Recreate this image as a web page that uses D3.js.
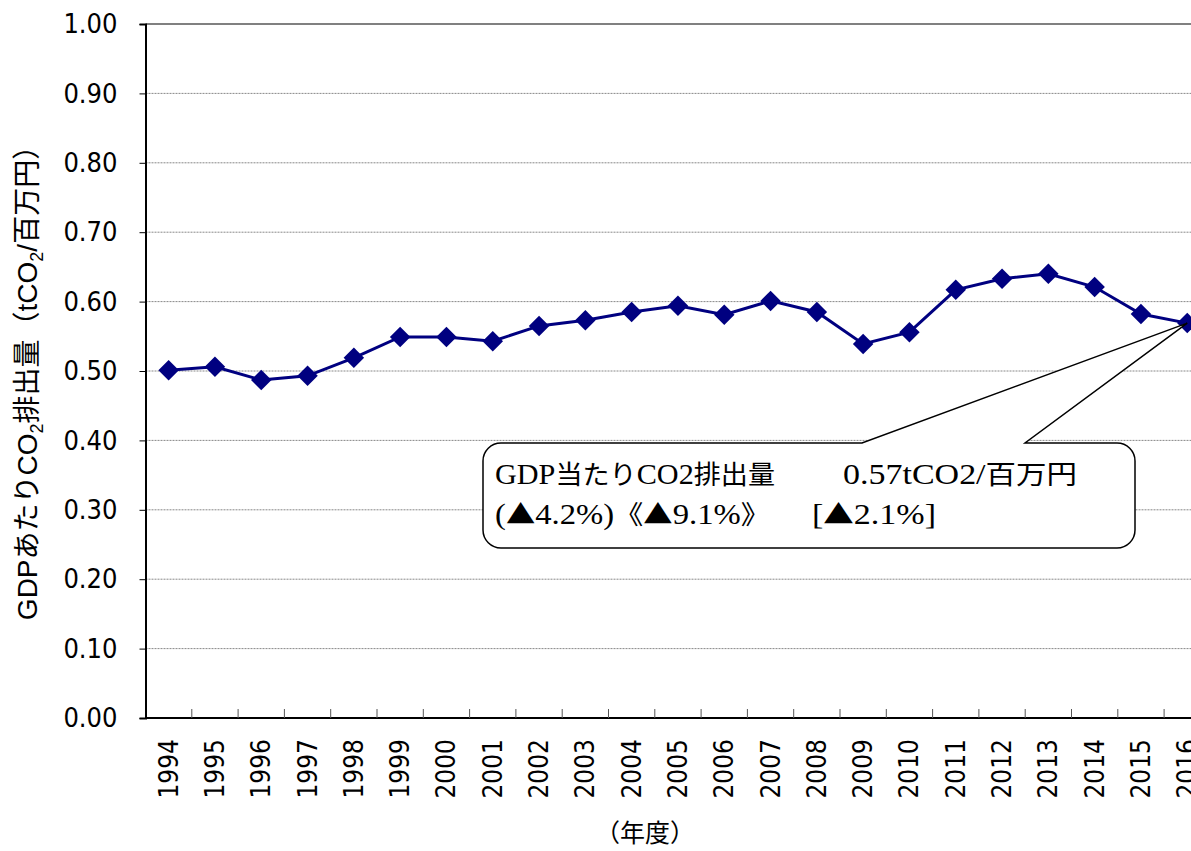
<!DOCTYPE html>
<html>
<head>
<meta charset="utf-8">
<script src="https://cdn.jsdelivr.net/npm/d3@7"></script>
<style>
  body { margin: 0; background: #fff; }
  svg { display: block; }
</style>
</head>
<body>
<svg id="chart" width="1191" height="851"></svg>
<script>
// data
const years = ["1994","1995","1996","1997","1998","1999","2000","2001","2002","2003","2004",
               "2005","2006","2007","2008","2009","2010","2011","2012","2013","2014","2015","2016"];
const intensity = [0.501, 0.506, 0.487, 0.493, 0.519, 0.549, 0.549, 0.543, 0.565, 0.573, 0.585,
                   0.594, 0.581, 0.601, 0.585, 0.539, 0.556, 0.617, 0.633, 0.640, 0.621, 0.582, 0.569];
const yTicks = [0, 0.1, 0.2, 0.3, 0.4, 0.5, 0.6, 0.7, 0.8, 0.9, 1.0];
const calloutLine1 = ["GDP当たりCO2排出量", "0.57tCO2/百万円"];
const calloutLine2 = ["(▲4.2%)《▲9.1%》", "[▲2.1%]"];

const svg = d3.select("#chart");
const margin = { left: 145.5, top: 24, bottom: 718 };
const bandW = 46.3;
const plotRight = margin.left + bandW * years.length;   // runs past the picture edge

const x = d3.scaleBand().domain(years).range([margin.left, plotRight]);
const y = d3.scaleLinear().domain([0, 1]).range([margin.bottom, margin.top]);

const sansFont = "'DejaVu Sans Condensed', 'DejaVu Sans', sans-serif";

// gridlines (dotted)
svg.append("g")
    .selectAll("line")
    .data(yTicks.filter(d => d > 0 && d < 1))
    .enter().append("line")
    .attr("x1", margin.left).attr("x2", plotRight)
    .attr("y1", d => y(d)).attr("y2", d => y(d))
    .attr("stroke", "#888").attr("stroke-width", 1)
    .style("stroke-dasharray", "2,1");

// top border
svg.append("line")
    .attr("x1", margin.left).attr("x2", plotRight)
    .attr("y1", y(1)).attr("y2", y(1))
    .attr("stroke", "#808080").attr("stroke-width", 2);

// y axis
const yAxis = d3.axisLeft(y).tickValues(yTicks).tickFormat(d3.format(".2f"))
    .tickSize(6).tickPadding(22);
const gy = svg.append("g")
    .attr("transform", `translate(${margin.left},0)`)
    .call(yAxis);
gy.select(".domain").attr("stroke", "#000").attr("stroke-width", 2);
gy.selectAll(".tick line").attr("stroke", "#000");
gy.selectAll("text").attr("font-family", sansFont).attr("font-size", 27).attr("fill", "#000");

// x axis: ticks at band boundaries pointing up
const gx = svg.append("g").attr("transform", `translate(0,${margin.bottom})`);
gx.append("line")
    .attr("x1", margin.left).attr("x2", plotRight)
    .attr("stroke", "#000").attr("stroke-width", 2);
gx.selectAll("line.tk")
    .data(years.slice(1))
    .enter().append("line")
    .attr("class", "tk")
    .attr("x1", d => x(d)).attr("x2", d => x(d))
    .attr("y1", 0).attr("y2", -9)
    .attr("stroke", "#555").attr("stroke-width", 1);
gx.selectAll("text")
    .data(years)
    .enter().append("text")
    .attr("transform", d => `translate(${x(d) + x.bandwidth() / 2 + 9},21) rotate(-90)`)
    .attr("text-anchor", "end")
    .attr("font-family", sansFont)
    .attr("font-size", 26)
    .text(d => d);

// line + diamond markers
const pts = years.map((yr, i) => ({ yr, v: intensity[i] }));
svg.append("path")
    .datum(pts)
    .attr("d", d3.line().x(d => x(d.yr) + x.bandwidth() / 2).y(d => y(d.v)))
    .attr("fill", "none")
    .attr("stroke", "#000080")
    .attr("stroke-width", 3);

svg.append("g")
    .selectAll("path")
    .data(pts)
    .enter().append("path")
    .attr("d", d3.symbol().type(d3.symbolSquare).size(210))
    .attr("transform", d => `translate(${x(d.yr) + x.bandwidth() / 2},${y(d.v)}) rotate(45)`)
    .attr("fill", "#000080");

// callout box with pointer to the last point
const last = pts[pts.length - 1];
const tipX = x(last.yr) + x.bandwidth() / 2, tipY = y(last.v);
const bx0 = 483, bx1 = 1135, by0 = 443, by1 = 548, r = 18;
const p = d3.path();
p.moveTo(bx0 + r, by0);
p.lineTo(862, by0);
p.lineTo(tipX, tipY);
p.lineTo(1025, by0);
p.lineTo(bx1 - r, by0);
p.arcTo(bx1, by0, bx1, by0 + r, r);
p.lineTo(bx1, by1 - r);
p.arcTo(bx1, by1, bx1 - r, by1, r);
p.lineTo(bx0 + r, by1);
p.arcTo(bx0, by1, bx0, by1 - r, r);
p.lineTo(bx0, by0 + r);
p.arcTo(bx0, by0, bx0 + r, by0, r);
p.closePath();
svg.append("path")
    .attr("d", p.toString())
    .attr("fill", "#fff")
    .attr("stroke", "#000")
    .attr("stroke-width", 1.5);

// callout text: latin in a narrow serif, kana/kanji and marks in the CJK font
const serifFont = "'Liberation Serif', serif";
const cjkFont = "'Noto Sans CJK JP', sans-serif";
const calloutText = [
    { t: calloutLine1[0], x: 495, y: 484, w: 280 },
    { t: calloutLine1[1], x: 843, y: 484, w: 234 },
    { t: calloutLine2[0], x: 495, y: 524, w: 275 },
    { t: calloutLine2[1], x: 812, y: 524, w: 124 }
];
const ct = svg.append("g")
    .selectAll("text")
    .data(calloutText)
    .enter().append("text")
    .attr("x", d => d.x).attr("y", d => d.y)
    .attr("textLength", d => d.w)
    .attr("lengthAdjust", "spacingAndGlyphs")
    .attr("font-family", serifFont)
    .attr("font-size", 29);
ct.each(function (d) {
    const sel = d3.select(this);
    d.t.match(/[\u2000-\u9fff\uff00-\uffef]+|[^\u2000-\u9fff\uff00-\uffef]+/g).forEach(part => {
        const isCjk = /[\u2000-\u9fff\uff00-\uffef]/.test(part);
        sel.append("tspan")
            .attr("font-family", isCjk ? cjkFont : serifFont)
            .attr("font-size", isCjk ? 26 : 29)
            .text(part);
    });
});

// axis titles
const yTitle = svg.append("text")
    .attr("transform", "translate(37,376) rotate(-90)")
    .attr("text-anchor", "middle")
    .attr("font-family", "'Liberation Sans', 'Noto Sans CJK JP', sans-serif")
    .attr("font-size", 28);
yTitle.append("tspan").text("GDPあたりCO");
yTitle.append("tspan").attr("font-size", 18).attr("dy", 6).text("2");
yTitle.append("tspan").attr("dy", -6).text("排出量（tCO");
yTitle.append("tspan").attr("font-size", 18).attr("dy", 6).text("2");
yTitle.append("tspan").attr("dy", -6).text("/百万円）");

svg.append("text")
    .attr("x", 645).attr("y", 842)
    .attr("text-anchor", "middle")
    .attr("font-family", "'Noto Sans CJK JP', sans-serif")
    .attr("font-size", 25)
    .text("（年度）");
</script>
</body>
</html>
